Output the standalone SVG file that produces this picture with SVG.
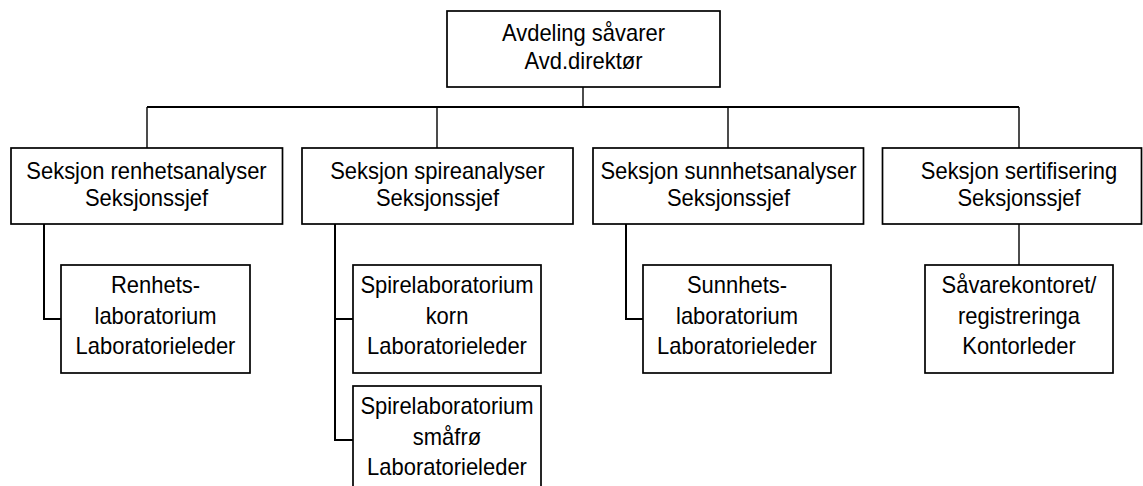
<svg xmlns="http://www.w3.org/2000/svg" width="1143" height="486" viewBox="0 0 1143 486">
<style>
.box{fill:#fff;stroke:#000;stroke-width:1.7}
.t{font-family:"Liberation Sans",Arial,sans-serif;font-size:23px;fill:#000;text-anchor:middle}
.main{fill:none;stroke:#000;stroke-width:2.2}
.drop{fill:none;stroke:#000;stroke-width:1.4}
.sub{fill:none;stroke:#000;stroke-width:2}
</style>
<rect width="1143" height="486" fill="#fff"/>
<g id="connectors">
<path class="drop" d="M583 87V107"/>
<path class="main" d="M147 107H1019"/>
<path class="drop" d="M147 107V148M437 107V148M728 107V148M1019 107V148"/>
<path class="sub" d="M44 224V319H61"/>
<path class="sub" d="M335 224V440H353M335 319H353"/>
<path class="sub" d="M626 224V319H643"/>
<path class="drop" d="M1019 224V265"/>
</g>
<g id="n-avdeling">
<rect class="box" x="447" y="11" width="273" height="76"/>
<text class="t" transform="translate(583.5 0) scale(0.955 1)"><tspan x="0" y="41.5">Avdeling såvarer</tspan><tspan x="0" y="69.5">Avd.direktør</tspan></text>
</g>
<g id="n-renhet">
<rect class="box" x="11" y="148" width="271.5" height="76"/>
<text class="t" transform="translate(146.5 0) scale(0.955 1)"><tspan x="0" y="179">Seksjon renhetsanalyser</tspan><tspan x="0" y="206.5">Seksjonssjef</tspan></text>
</g>
<g id="n-spire">
<rect class="box" x="302" y="148" width="271" height="76"/>
<text class="t" transform="translate(437.5 0) scale(0.955 1)"><tspan x="0" y="179">Seksjon spireanalyser</tspan><tspan x="0" y="206.5">Seksjonssjef</tspan></text>
</g>
<g id="n-sunnhet">
<rect class="box" x="593" y="148" width="270.5" height="76"/>
<text class="t" transform="translate(728.5 0) scale(0.955 1)"><tspan x="0" y="179">Seksjon sunnhetsanalyser</tspan><tspan x="0" y="206.5">Seksjonssjef</tspan></text>
</g>
<g id="n-sert">
<rect class="box" x="882.5" y="148" width="259" height="76"/>
<text class="t" transform="translate(1019 0) scale(0.955 1)"><tspan x="0" y="179">Seksjon sertifisering</tspan><tspan x="0" y="206.5">Seksjonssjef</tspan></text>
</g>
<g id="n-renhetslab">
<rect class="box" x="61" y="265" width="189" height="108"/>
<text class="t" transform="translate(155.5 0) scale(0.955 1)"><tspan x="0" y="293.5">Renhets-</tspan><tspan x="0" y="324">laboratorium</tspan><tspan x="0" y="354">Laboratorieleder</tspan></text>
</g>
<g id="n-spirekorn">
<rect class="box" x="353" y="265" width="188" height="108"/>
<text class="t" transform="translate(447 0) scale(0.955 1)"><tspan x="0" y="293.5">Spirelaboratorium</tspan><tspan x="0" y="324">korn</tspan><tspan x="0" y="354">Laboratorieleder</tspan></text>
</g>
<g id="n-spiresma">
<rect class="box" x="353" y="386" width="188" height="108"/>
<text class="t" transform="translate(447 0) scale(0.955 1)"><tspan x="0" y="414.5">Spirelaboratorium</tspan><tspan x="0" y="445">småfrø</tspan><tspan x="0" y="475">Laboratorieleder</tspan></text>
</g>
<g id="n-sunnhetslab">
<rect class="box" x="643" y="265" width="188" height="108"/>
<text class="t" transform="translate(737 0) scale(0.955 1)"><tspan x="0" y="293.5">Sunnhets-</tspan><tspan x="0" y="324">laboratorium</tspan><tspan x="0" y="354">Laboratorieleder</tspan></text>
</g>
<g id="n-savare">
<rect class="box" x="925" y="265" width="188" height="108"/>
<text class="t" transform="translate(1019 0) scale(0.955 1)"><tspan x="0" y="293.5">Såvarekontoret/</tspan><tspan x="0" y="324">registreringa</tspan><tspan x="0" y="354">Kontorleder</tspan></text>
</g>
</svg>
